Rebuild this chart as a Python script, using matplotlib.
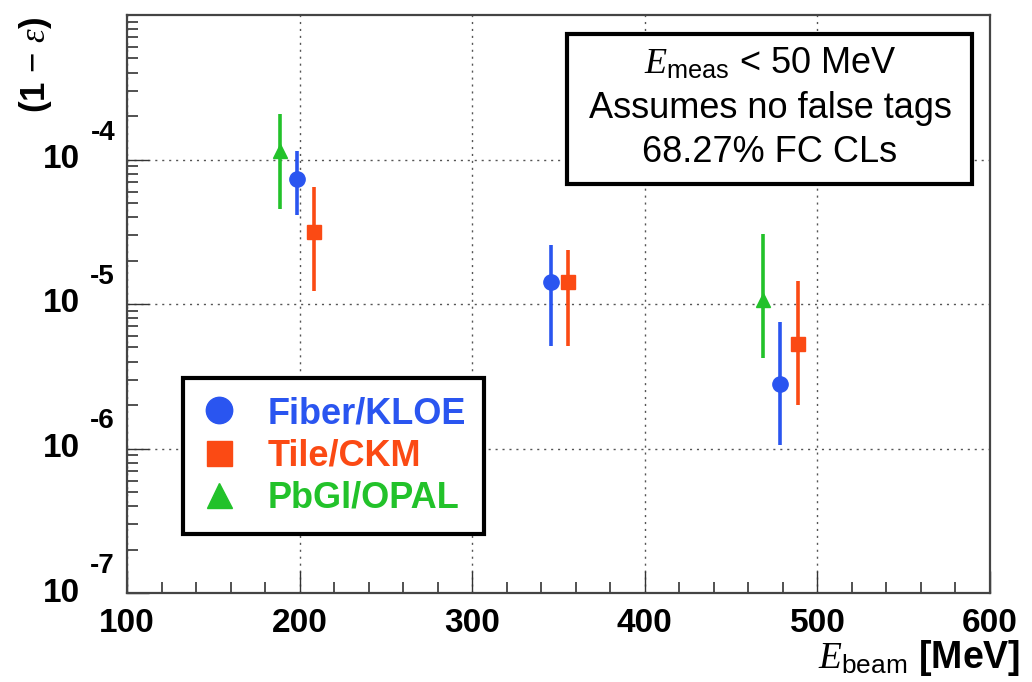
import matplotlib
matplotlib.use("Agg")
import matplotlib.pyplot as plt
import matplotlib.transforms as mtransforms
from matplotlib.lines import Line2D
from matplotlib.patches import Rectangle
from matplotlib.ticker import MultipleLocator, LogLocator, NullFormatter, FixedLocator

plt.rcParams['font.family'] = ['Liberation Sans', 'DejaVu Sans']
plt.rcParams['mathtext.fontset'] = 'custom'
plt.rcParams['mathtext.rm'] = 'Liberation Sans'
plt.rcParams['mathtext.it'] = 'Liberation Serif:italic'
plt.rcParams['mathtext.bf'] = 'Liberation Sans:bold'

# (1 - eps) upper limits: beam energy, central value, upper / lower CL edge
fiber_e = [198.5, 345.5, 478.5]
fiber_val = [7.3e-5, 1.43e-5, 2.8e-6]
fiber_hi = [1.14e-4, 2.55e-5, 7.5e-6]
fiber_lo = [4.1e-5, 5.1e-6, 1.05e-6]

tile_e = [208.5, 355.5, 488.5]
tile_val = [3.15e-5, 1.42e-5, 5.3e-6]
tile_hi = [6.5e-5, 2.35e-5, 1.44e-5]
tile_lo = [1.24e-5, 5.1e-6, 2.0e-6]

pbgl_e = [188.5, 468.5]
pbgl_val = [1.15e-4, 1.07e-5]
pbgl_hi = [2.07e-4, 3.03e-5]
pbgl_lo = [4.56e-5, 4.2e-6]

series = [
    ("Fiber/KLOE", '#2a55f0', 'o', 11, fiber_e, fiber_val, fiber_hi, fiber_lo),
    ("Tile/CKM", '#fb4a14', 's', 10, tile_e, tile_val, tile_hi, tile_lo),
    ("PbGl/OPAL", '#22c22a', '^', 10, pbgl_e, pbgl_val, pbgl_hi, pbgl_lo),
]

x_major = [100, 200, 300, 400, 500, 600]
decades = [-7, -6, -5, -4]

W, H = 1032, 682
fig = plt.figure(figsize=(W / 100, H / 100), dpi=100)
ax = fig.add_axes([127 / W, 1 - 593 / H, 863 / W, 578 / H])

for name, col, mk, ms, e, v, hi, lo in series:
    yerr = [[c - l for c, l in zip(v, lo)], [h - c for c, h in zip(v, hi)]]
    ax.errorbar(e, v, yerr=yerr, fmt=mk, color=col, ms=ms, elinewidth=2.6,
                capsize=0, mec=col, zorder=3)

ax.set_yscale('log')
ax.set_xlim(100, 600)
ax.set_ylim(1e-7, 1e-3)

ax.xaxis.set_major_locator(FixedLocator(x_major))
ax.xaxis.set_minor_locator(MultipleLocator(20))
ax.yaxis.set_major_locator(FixedLocator([10.0 ** d for d in decades]))
ax.yaxis.set_minor_locator(LogLocator(base=10, subs=range(2, 10), numticks=20))
ax.yaxis.set_minor_formatter(NullFormatter())
ax.set_yticklabels([])

ax.tick_params(which='both', direction='in', top=False, right=False, color='#333333')
ax.tick_params(which='major', length=16, width=1.0)
ax.tick_params(which='minor', length=8, width=1.2)
ax.tick_params(axis='x', which='major', labelsize=24, pad=11)
for lab in ax.get_xticklabels():
    lab.set_fontweight('bold')

ax.grid(True, which='major', ls=(0, (1.5, 3.5)), color='#555555', lw=1.0)
for s in ax.spines.values():
    s.set_linewidth(1.6)
    s.set_color('#444444')

# decade labels drawn as "10" with a raised exponent
ytr = ax.get_yaxis_transform()
raise_up = mtransforms.ScaledTranslation(0, 27 / 100, fig.dpi_scale_trans)
for d in decades:
    ax.text(-47 / 863, 10.0 ** d, "10", transform=ytr, ha='right', va='center',
            fontsize=24, fontweight='bold', clip_on=False)
    ax.text(-12 / 863, 10.0 ** d, f"{d}", transform=ytr + raise_up, ha='right',
            va='center', fontsize=20, fontweight='bold', clip_on=False)

fig.text(35 / W, 1 - 65 / H, r"(1 $-$ $\varepsilon$)", rotation=90, ha='center',
         va='center', fontsize=25, fontweight='bold')
fig.text(1020 / W, 1 - 658 / H, r"$E_{\mathrm{beam}}$ $\mathbf{[MeV]}$", ha='right',
         va='center', fontsize=27)

# legend
handles = [Line2D([], [], ls='none', marker=mk, color=col, ms=ms + 8)
           for name, col, mk, ms, *_ in series]
leg = fig.legend(handles, [s[0] for s in series], loc='upper left',
                 bbox_to_anchor=(183 / W, 1 - 378 / H), borderaxespad=0,
                 fancybox=False, framealpha=1, edgecolor='black',
                 prop={'size': 26, 'weight': 'bold'}, handletextpad=0.83,
                 handlelength=1.0, labelspacing=0.2, borderpad=0.5)
leg.get_frame().set_linewidth(3)
for txt, s in zip(leg.get_texts(), series):
    txt.set_color(s[1])

# info box
fig.add_artist(Rectangle((567 / W, 1 - 184 / H), 405 / W, 150 / H, transform=fig.transFigure,
                         fill=True, facecolor='white', edgecolor='black', lw=3, zorder=5))
info = [r"$E_{\mathrm{meas}}$ < 50 MeV", "Assumes no false tags", "68.27% FC CLs"]
for i, line in enumerate(info):
    fig.text(770 / W, 1 - (64 + 44 * i) / H, line, ha='center', va='center',
             fontsize=26, zorder=6)

fig.savefig("out.png", dpi=100)
